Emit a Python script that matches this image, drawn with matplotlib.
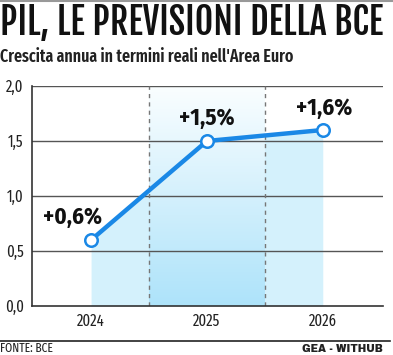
import numpy as np
import matplotlib
matplotlib.use('Agg')
import matplotlib.pyplot as plt

# dati
anni = ['2024', '2025', '2026']
crescita = [0.6, 1.5, 1.6]
etichette = ['+0,6%', '+1,5%', '+1,6%']
yticks = [0.0, 0.5, 1.0, 1.5, 2.0]
ytick_labels = ['0,0', '0,5', '1,0', '1,5', '2,0']

TITOLO = 'Fjalla One'
COND = 'Fira Sans Condensed'
XCOND = 'Fira Sans Extra Condensed'

W, H = 393, 355
fig = plt.figure(figsize=(W / 100, H / 100), dpi=100)
renderer = fig.canvas.get_renderer()

def fx(px):
    return px / W

def fy(py):
    return 1 - py / H

def adatta(t, larghezza):
    # scala la dimensione del testo per avere la larghezza voluta in pixel
    w = t.get_window_extent(renderer).width
    t.set_fontsize(t.get_fontsize() * larghezza / w)

# riga grigia in alto e linea in basso
fig.add_artist(plt.Line2D([0, 1], [fy(1), fy(1)], color='#999999', lw=1.5))
fig.add_artist(plt.Line2D([0, fx(390)], [fy(341), fy(341)], color='#222222', lw=1.2))

tit = fig.text(fx(0), fy(35), 'PIL, LE PREVISIONI DELLA BCE', family=TITOLO,
               fontsize=26, va='baseline', ha='left', color='#111111')
adatta(tit, 383)
sub = fig.text(fx(0), fy(62), "Crescita annua in termini reali nell'Area Euro", family=XCOND,
               weight=600, fontsize=13, va='baseline', ha='left', color='#222222')
adatta(sub, 295)
fig.text(fx(0), fy(352), 'FONTE: BCE', family=XCOND, fontsize=9, va='baseline', ha='left',
         color='#222222')
fig.text(fx(383), fy(352), 'GEA - WITHUB', family='Archivo Black', fontsize=7.4, va='baseline',
         ha='right', color='#222222')

ax = fig.add_axes([fx(32), fy(306), fx(383) - fx(32), fy(86) - fy(306)])
x = np.arange(len(anni))
ax.set_xlim(-0.51, 2.52)
ax.set_ylim(0, 2.0)

# riempimento sotto la linea
ax.fill_between(x, crescita, 0, color='#d4f1fc', lw=0, zorder=1)
# banda centrale sfumata
grad = np.linspace(0, 1, 256).reshape(-1, 1)
c_bot = np.array([0.68, 0.89, 0.98])
c_top = np.array([0.98, 0.995, 1.0])
img = c_bot[None, None, :] * (1 - grad[:, :, None]) + c_top[None, None, :] * grad[:, :, None]
ax.imshow(img, extent=[0.5, 1.5, 0, 2.0], origin='lower', aspect='auto', zorder=1.5)

for v in yticks[1:]:
    ax.axhline(v, color='#555555', lw=1, zorder=2)
for v in [0.5, 1.5]:
    ax.axvline(v, color='#777777', lw=1, ls=(0, (3, 3)), zorder=2.5)

ax.plot(x, crescita, color='#1a88e6', lw=3.2, zorder=3, solid_capstyle='round')
ax.plot(x, crescita, 'o', ms=9, mfc='white', mec='#1a88e6', mew=1.8, zorder=4)

pos = [(-0.16, 0.81), (1.0, 1.71), (2.01, 1.80)]
for lab, (px, py) in zip(etichette, pos):
    ax.text(px, py, lab, ha='center', va='center', family=COND, weight=700,
            fontsize=16.5, color='#111111', zorder=5)

ax.set_xticks(x)
ax.set_xticklabels(anni, family=XCOND, fontsize=11.5, color='#222222')
ax.set_yticks(yticks)
ax.set_yticklabels(ytick_labels, family=XCOND, fontsize=11.5, color='#222222')
ax.tick_params(length=0)
ax.tick_params(axis='x', pad=5)
ax.tick_params(axis='y', pad=6)
for s in ['top', 'right']:
    ax.spines[s].set_visible(False)
for s in ['left', 'bottom']:
    ax.spines[s].set_color('#333333')
    ax.spines[s].set_linewidth(1.2)
ax.set_facecolor('white')

fig.savefig('out.png', dpi=100)
